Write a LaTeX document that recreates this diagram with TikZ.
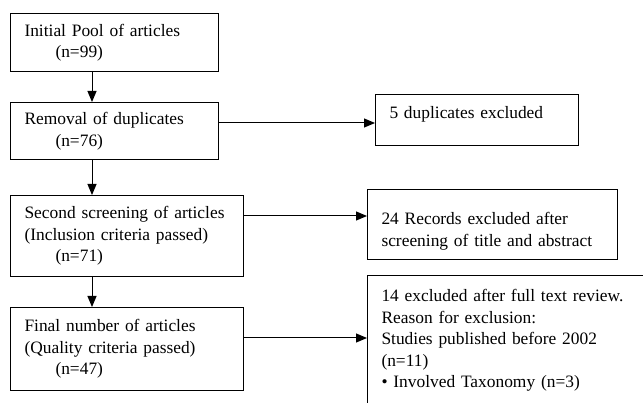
\documentclass[tikz,border=0pt]{standalone}
\usepackage{fontspec}
\setmainfont{Liberation Serif}
\usetikzlibrary{arrows.meta}
\begin{document}
\begin{tikzpicture}[x=1pt,y=-1pt,
  box/.style={draw, line width=1pt, inner ysep=0pt, inner xsep=14pt, anchor=north west, align=left,
    font=\fontsize{17.4}{21.5}\selectfont},
  arr/.style={-{Triangle[length=11pt,width=9pt]}, line width=1pt}]
\useasboundingbox (0,0) rectangle (643,403);
\clip (0,0) rectangle (643,403);
\node[box, text width=180pt, minimum height=58pt] (b1) at (10,13) {Initial Pool of articles\\\hspace*{31pt}(n=99)};
\node[box, text width=180pt, minimum height=57pt] (b2) at (10,102) {Removal of duplicates\\\hspace*{31pt}(n=76)};
\node[box, text width=205pt, minimum height=81pt] (b3) at (10,195) {Second screening of articles\\(Inclusion criteria passed)\\\hspace*{31pt}(n=71)};
\node[box, text width=205pt, minimum height=83pt] (b4) at (10,307) {Final number of articles\\(Quality criteria passed)\\\hspace*{31pt}(n=47)};
\node[box, text width=175pt, minimum height=51pt, text depth=16pt] (r1) at (375,94) {5 duplicates excluded};
\node[box, text width=222pt, minimum height=70pt, text depth=12pt] (r2) at (367,189) {24 Records excluded after\\screening of title and abstract};
\node[box, text width=262pt, minimum height=130pt] (r3) at (367,275) {14 excluded after full text review.\\Reason for exclusion:\\Studies published before 2002\\(n=11)\\\textbullet\ Involved Taxonomy (n=3)};
\draw[arr] ([xshift=82pt]b1.south west) -- ([xshift=82pt]b2.north west);
\draw[arr] ([xshift=82pt]b2.south west) -- ([xshift=82pt]b3.north west);
\draw[arr] ([xshift=82pt]b3.south west) -- ([xshift=82pt]b4.north west);
\coordinate (y1) at (0,123);
\coordinate (y2) at (0,216);
\coordinate (y3) at (0,338);
\draw[arr] (b2.east |- y1) -- (r1.west |- y1);
\draw[arr] (b3.east |- y2) -- (r2.west |- y2);
\draw[arr] (b4.east |- y3) -- (r3.west |- y3);
\end{tikzpicture}
\end{document}
